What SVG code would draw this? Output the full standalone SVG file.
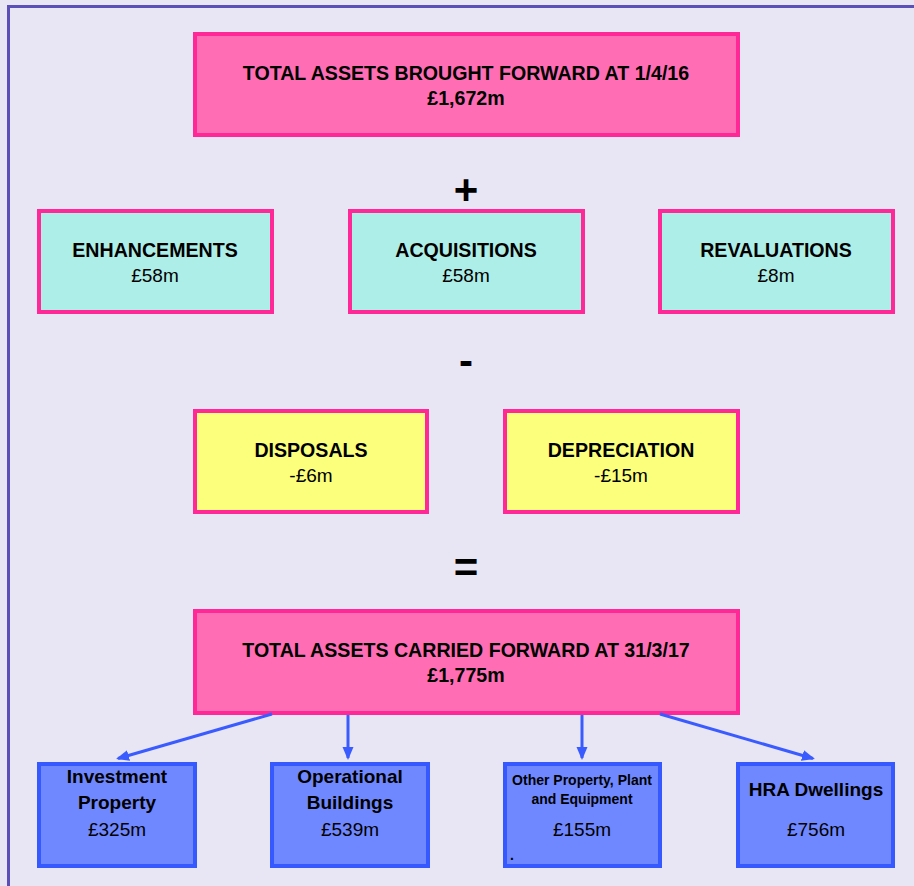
<svg xmlns="http://www.w3.org/2000/svg" width="914" height="886" viewBox="0 0 914 886">
<defs>
<style>
.bg{fill:#E8E6F4}
.frame{fill:none;stroke:#5B50B8;stroke-width:3}
.pink{fill:#FF6EB4;stroke:#FF2896;stroke-width:4}
.cyan{fill:#AEEEE8;stroke:#FF2896;stroke-width:4}
.yellow{fill:#FCFF7C;stroke:#FF2896;stroke-width:4}
.blue{fill:#7088FF;stroke:#3558FF;stroke-width:4}
text{font-family:"Liberation Sans",Arial,sans-serif;fill:#000;text-anchor:middle}
.t{font-weight:bold;font-size:19.6px}
.b{font-weight:bold;font-size:19px}
.r{font-size:19px}
.sb{font-weight:bold;font-size:14px}
.op{font-weight:bold;font-size:42px}
.conn{stroke:#3A5CFF;stroke-width:3;fill:none;marker-end:url(#ah)}
</style>
<marker id="ah" markerUnits="userSpaceOnUse" markerWidth="14" markerHeight="12" refX="11" refY="5.5" orient="auto">
<path d="M0,0 L13,5.5 L0,11 z" fill="#3A5CFF"/>
</marker>
</defs>
<rect class="bg" x="0" y="0" width="914" height="886"/>
<rect class="frame" x="8.5" y="6.5" width="930" height="900"/>

<g id="brought-forward">
<rect class="pink" x="195" y="34" width="543" height="101"/>
<text class="t" x="466" y="80">TOTAL ASSETS BROUGHT FORWARD AT 1/4/16</text>
<text class="t" x="466" y="105">£1,672m</text>
</g>

<text class="op" x="466" y="204">+</text>

<g id="enhancements">
<rect class="cyan" x="39" y="211" width="233" height="101"/>
<text class="t" x="155" y="257">ENHANCEMENTS</text>
<text class="r" x="155" y="282">£58m</text>
</g>
<g id="acquisitions">
<rect class="cyan" x="350" y="211" width="233" height="101"/>
<text class="t" x="466" y="257">ACQUISITIONS</text>
<text class="r" x="466" y="282">£58m</text>
</g>
<g id="revaluations">
<rect class="cyan" x="660" y="211" width="233" height="101"/>
<text class="t" x="776" y="257">REVALUATIONS</text>
<text class="r" x="776" y="282">£8m</text>
</g>

<text class="op" x="466" y="375">-</text>

<g id="disposals">
<rect class="yellow" x="195" y="411" width="232" height="101"/>
<text class="t" x="311" y="457">DISPOSALS</text>
<text class="r" x="311" y="482">-£6m</text>
</g>
<g id="depreciation">
<rect class="yellow" x="505" y="411" width="233" height="101"/>
<text class="t" x="621" y="457">DEPRECIATION</text>
<text class="r" x="621" y="482">-£15m</text>
</g>

<text class="op" x="466" y="582">=</text>

<g id="carried-forward">
<rect class="pink" x="195" y="611" width="543" height="102"/>
<text class="t" x="466" y="657">TOTAL ASSETS CARRIED FORWARD AT 31/3/17</text>
<text class="t" x="466" y="682">£1,775m</text>
</g>

<g id="connectors">
<line class="conn" x1="272" y1="714" x2="118" y2="758.5"/>
<line class="conn" x1="348" y1="715" x2="348" y2="758"/>
<line class="conn" x1="582" y1="715" x2="582" y2="758"/>
<line class="conn" x1="660" y1="714" x2="813" y2="758.5"/>
</g>

<g id="investment-property">
<rect class="blue" x="39" y="764" width="156" height="102"/>
<text class="b" x="117" y="783">Investment</text>
<text class="b" x="117" y="809">Property</text>
<text class="r" x="117" y="836">£325m</text>
</g>
<g id="operational-buildings">
<rect class="blue" x="272" y="764" width="156" height="102"/>
<text class="b" x="350" y="783">Operational</text>
<text class="b" x="350" y="809">Buildings</text>
<text class="r" x="350" y="836">£539m</text>
</g>
<g id="other-ppe">
<rect class="blue" x="505" y="764" width="155" height="102"/>
<text class="sb" x="582" y="785">Other Property, Plant</text>
<text class="sb" x="582" y="804">and Equipment</text>
<text class="r" x="582" y="836">£155m</text>
<text class="sb" x="512" y="860">.</text>
</g>
<g id="hra-dwellings">
<rect class="blue" x="738" y="764" width="155" height="102"/>
<text class="b" x="816" y="796">HRA Dwellings</text>
<text class="r" x="816" y="836">£756m</text>
</g>
</svg>
